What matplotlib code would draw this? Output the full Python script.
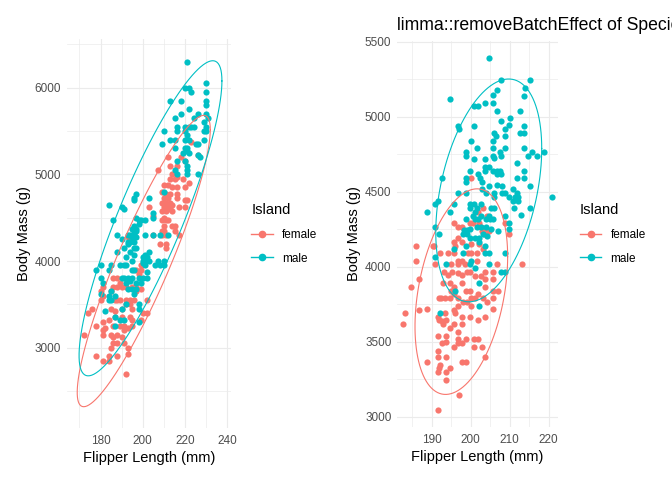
import numpy as np
import matplotlib
matplotlib.use("Agg")
import matplotlib.pyplot as plt
from matplotlib.lines import Line2D
from matplotlib.ticker import MultipleLocator

plt.rcParams['font.family'] = ['Liberation Sans', 'DejaVu Sans']

# colours (ggplot default hue palette)
female_col = '#F8766D'
male_col = '#00BFC4'

# ---- left panel: raw values ----
male_flipper = [
    221, 220, 222, 223, 230, 230, 213, 218, 230, 230, 222, 218, 226, 215, 224, 230, 231, 229,
    216, 220, 222, 223, 224, 230, 210, 216, 220, 229, 230, 221, 213, 215, 220, 222, 225, 209,
    226, 229, 215, 220, 221, 221, 219, 222, 226, 227, 216, 220, 221, 215, 221, 216, 221, 226,
    210, 197, 196, 196, 184, 190, 191, 186, 197, 198, 199, 201, 205, 205, 203, 196, 195, 198,
    197, 188, 194, 201, 205, 208, 212, 196, 197, 193, 195, 196, 197, 190, 193, 194, 196, 193,
    191, 196, 197, 188, 194, 192, 196, 201, 203, 200, 202, 200, 201, 200, 201, 203, 207, 210,
    206, 208, 210, 195, 185, 189, 191, 192, 178, 180, 184, 195, 196, 202, 180, 181, 190, 191,
    193, 194, 195, 198, 200, 202, 192, 197, 199, 185, 193, 195, 197, 180, 184, 187, 196, 184,
    185, 192, 198, 198, 182, 190, 187, 189, 191, 187, 198]
male_mass = [
    6300, 6000, 6000, 5950, 6050, 5950, 5850, 5850, 5850, 5800, 5750, 5700, 5700, 5650, 5650, 5700, 5650, 5600,
    5550, 5550, 5550, 5550, 5550, 5550, 5500, 5500, 5500, 5500, 5500, 5450, 5400, 5400, 5400, 5400, 5350, 5350,
    5350, 5400, 5300, 5300, 5300, 5275, 5250, 5250, 5225, 5200, 5150, 5150, 5100, 5050, 5050, 5000, 5000, 5000,
    4800, 4775, 4700, 4725, 4650, 4625, 4600, 4475, 4500, 4475, 4475, 4475, 4550, 4500, 4725, 4400, 4375, 4425,
    4350, 4300, 4300, 4300, 4300, 4300, 4300, 4325, 4375, 4300, 4275, 4300, 4275, 4250, 4225, 4225, 4225, 4200,
    4150, 4150, 4150, 4100, 4100, 4050, 4075, 4075, 4100, 4050, 4050, 4000, 4000, 3975, 3950, 4000, 4000, 4000,
    3950, 3950, 3950, 4000, 3950, 3950, 3950, 3950, 3900, 3950, 3900, 3900, 3900, 3875, 3800, 3750, 3800, 3800,
    3800, 3775, 3800, 3800, 3800, 3800, 3750, 3750, 3750, 3650, 3675, 3675, 3675, 3625, 3600, 3600, 3625, 3550,
    3550, 3500, 3500, 3450, 3425, 3450, 3350, 3325, 3325, 3250, 3300]

female_flipper = [
    223, 212, 218, 220, 226, 207, 213, 216, 214, 216, 213, 215, 219, 210, 212, 214, 216, 222,
    220, 209, 211, 213, 216, 210, 212, 216, 209, 211, 213, 214, 220, 221, 203, 210, 212, 213,
    220, 217, 209, 211, 214, 205, 210, 211, 209, 212, 214, 215, 210, 209, 210, 215, 205, 209,
    211, 217, 193, 195, 208, 211, 211, 199, 199, 197, 198, 186, 188, 189, 186, 188, 190, 192,
    195, 197, 199, 197, 185, 181, 180, 181, 180, 187, 188, 189, 192, 194, 196, 202, 176, 174,
    185, 187, 190, 192, 194, 195, 200, 202, 181, 184, 187, 190, 194, 195, 199, 178, 182, 181,
    186, 189, 191, 195, 193, 172, 181, 185, 186, 188, 191, 190, 186, 188, 191, 185, 193, 193,
    178, 184, 188, 181, 184, 192]
female_mass = [
    5375, 5200, 5200, 5150, 5225, 5050, 5100, 5100, 5000, 4975, 4950, 4950, 4950, 4875, 4875, 4850, 4850, 4900,
    4850, 4800, 4775, 4775, 4775, 4725, 4725, 4725, 4675, 4675, 4675, 4650, 4700, 4700, 4625, 4625, 4625, 4600,
    4625, 4625, 4575, 4575, 4575, 4525, 4500, 4475, 4475, 4475, 4400, 4400, 4400, 4350, 4350, 4350, 4300, 4300,
    4300, 4300, 4275, 4275, 4200, 4200, 4150, 3950, 3900, 3900, 3850, 3800, 3800, 3750, 3700, 3700, 3700, 3700,
    3700, 3700, 3675, 3650, 3650, 3700, 3650, 3600, 3550, 3550, 3550, 3550, 3550, 3550, 3550, 3550, 3450, 3400,
    3450, 3425, 3450, 3500, 3500, 3450, 3400, 3400, 3300, 3325, 3350, 3350, 3350, 3325, 3325, 3250, 3225, 3200,
    3250, 3250, 3250, 3250, 3225, 3150, 3150, 3150, 3125, 3150, 3200, 3125, 3050, 3050, 3050, 3000, 3000, 2925,
    2900, 2900, 2900, 2850, 2850, 2700]

# ---- right panel: values after limma::removeBatchEffect (species) ----
adj_male_flipper = [
    204.8, 207.9, 215.3, 214.0, 213.8, 194.8, 206.8, 205.8, 200.9, 202.0, 203.8, 205.8, 206.8, 212.7,
    207.9, 210.2, 209.9, 208.9, 213.8, 212.7, 213.8, 196.8, 197.1, 200.9, 206.1, 206.6, 205.8, 208.9,
    200.2, 201.7, 208.9, 213.8, 198.9, 198.9, 205.8, 207.6, 205.8, 206.1, 207.9, 200.9, 203.8, 215.8,
    214.8, 217.1, 218.9, 212.0, 203.8, 204.8, 203.8, 205.8, 206.8, 207.6, 206.8, 207.9, 199.9, 213.8,
    192.7, 198.9, 198.9, 202.0, 202.5, 203.0, 212.0, 213.8, 204.8, 206.8, 208.1, 203.0, 215.3, 220.9,
    196.8, 198.9, 204.0, 206.1, 208.1, 208.9, 210.9, 206.1, 209.9, 211.5, 212.0, 212.2, 210.9, 190.9,
    191.7, 195.8, 199.9, 200.9, 202.7, 188.9, 194.8, 199.9, 201.7, 205.3, 206.1, 211.2, 212.2, 215.3,
    201.2, 200.7, 202.7, 204.8, 208.9, 213.0, 198.9, 201.2, 202.0, 204.0, 205.0, 205.8, 209.9, 209.9,
    190.9, 192.0, 198.4, 199.1, 198.1, 199.1, 199.9, 201.7, 204.0, 202.7, 205.3, 207.1, 199.9, 201.2,
    202.2, 204.3, 203.2, 198.9, 202.2, 203.8, 195.8, 198.1, 203.8, 204.8, 208.9, 190.9, 200.2, 199.9,
    201.2, 193.8, 204.8, 207.9, 208.9, 202.2, 196.1, 202.2, 192.2]
adj_male_mass = [
    5395, 5248, 5248, 5195, 5141, 5121, 5177, 5148, 5074, 5074, 5094, 5094, 5041, 5041,
    4974, 4994, 4947, 4921, 4941, 4894, 4894, 4941, 4921, 4941, 4894, 4874, 4841, 4874,
    4841, 4794, 4794, 4794, 4767, 4740, 4794, 4767, 4740, 4727, 4740, 4720, 4720, 4767,
    4740, 4740, 4767, 4693, 4667, 4667, 4640, 4640, 4640, 4640, 4620, 4620, 4640, 4640,
    4593, 4593, 4566, 4620, 4593, 4566, 4593, 4593, 4540, 4546, 4540, 4520, 4540, 4466,
    4493, 4493, 4493, 4493, 4493, 4493, 4520, 4466, 4466, 4466, 4493, 4466, 4439, 4419,
    4439, 4419, 4419, 4419, 4419, 4366, 4366, 4393, 4393, 4393, 4393, 4393, 4439, 4393,
    4366, 4339, 4339, 4339, 4339, 4346, 4319, 4319, 4319, 4319, 4319, 4319, 4292, 4252,
    4266, 4219, 4246, 4246, 4219, 4219, 4252, 4266, 4266, 4266, 4252, 4239, 4192, 4192,
    4192, 4206, 4219, 4137, 4164, 4137, 4117, 4091, 4091, 4091, 4091, 4064, 4038, 4018,
    3991, 4018, 4018, 3965, 3965, 3892, 3839, 3739, 3693]

adj_female_flipper = [
    200.2, 203.2, 204.3, 202.0, 195.8, 196.8, 197.9, 199.9, 200.7, 202.2, 202.7, 203.8, 204.8, 208.9,
    209.9, 196.8, 203.5, 203.0, 186.1, 190.3, 190.7, 195.8, 196.1, 197.9, 200.2, 202.2, 203.2, 195.8,
    192.2, 194.3, 199.2, 200.2, 201.7, 186.1, 190.9, 195.0, 196.8, 196.8, 197.9, 198.6, 201.7, 206.8,
    213.1, 193.2, 194.3, 195.3, 196.8, 197.9, 199.1, 199.9, 201.2, 202.7, 203.8, 205.8, 203.8, 205.8,
    186.8, 193.0, 194.8, 197.9, 195.6, 195.0, 198.9, 199.9, 202.0, 203.8, 205.8, 207.1, 184.8, 192.0,
    192.5, 193.5, 194.8, 195.8, 196.8, 198.1, 199.1, 200.2, 201.2, 203.2, 204.3, 205.8, 196.8, 200.2,
    205.8, 183.2, 186.8, 188.9, 193.5, 195.8, 196.1, 182.7, 191.7, 192.0, 192.7, 193.8, 193.0, 195.8,
    197.9, 199.9, 202.0, 203.8, 197.9, 194.8, 196.8, 191.7, 193.8, 193.8, 192.7, 195.8, 196.8, 196.8,
    197.9, 198.9, 200.9, 202.0, 200.9, 203.0, 191.7, 188.9, 191.7, 193.8, 203.8, 197.9, 198.9, 192.2,
    192.0, 194.8, 191.7, 193.8, 193.8, 197.1, 191.7]
adj_female_mass = [
    4593, 4393, 4339, 4366, 4292, 4266, 4266, 4292, 4292, 4292, 4266, 4239, 4239, 4292,
    4219, 4192, 4219, 4239, 4137, 4137, 4137, 4164, 4137, 4164, 4151, 4151, 4117, 4091,
    4091, 4091, 4091, 4091, 4091, 4038, 4018, 4018, 4038, 4018, 4038, 4018, 4038, 4018,
    4018, 3965, 3945, 3965, 3958, 3945, 3965, 3965, 3938, 3938, 3965, 3965, 3919, 3919,
    3919, 3892, 3892, 3892, 3865, 3839, 3839, 3839, 3819, 3865, 3839, 3839, 3865, 3793,
    3793, 3793, 3793, 3819, 3793, 3766, 3766, 3793, 3793, 3793, 3766, 3793, 3739, 3739,
    3720, 3693, 3713, 3720, 3693, 3713, 3693, 3620, 3667, 3647, 3640, 3647, 3620, 3620,
    3667, 3667, 3647, 3667, 3620, 3594, 3567, 3541, 3541, 3501, 3494, 3468, 3521, 3494,
    3494, 3521, 3521, 3521, 3468, 3468, 3441, 3368, 3395, 3395, 3395, 3368, 3368, 3342,
    3322, 3322, 3295, 3295, 3242, 3143, 3043]


def cov_trob(data, nu=5, maxit=25, tol=0.01):
    # robust multivariate t estimate, like MASS::cov.trob
    n, p = data.shape
    loc = data.mean(axis=0)
    w = np.ones(n)
    for _ in range(maxit):
        w0 = w
        X = data - loc
        _, d, vt = np.linalg.svd(np.sqrt(w / w.sum())[:, None] * X, full_matrices=False)
        wX = X @ vt.T / d
        Q = (wX ** 2).sum(axis=1)
        w = (nu + p) / (nu + Q)
        loc = (w[:, None] * data).sum(axis=0) / w.sum()
        if np.all(np.abs(w - w0) < tol):
            break
    X = data - loc
    cov = (np.sqrt(w)[:, None] * X).T @ (np.sqrt(w)[:, None] * X) / n
    return loc, cov


def ellipse(x, y, level=0.95, segments=120):
    # 95% t ellipse in the manner of ggplot2::stat_ellipse
    data = np.column_stack([x, y]).astype(float)
    dfd = len(data) - 1
    centre, cov = cov_trob(data)
    fq = dfd / 2 * ((1 - level) ** (-2 / dfd) - 1)  # qf(level, 2, dfd)
    radius = np.sqrt(2 * fq)
    t = np.linspace(0, 2 * np.pi, segments)
    circle = np.column_stack([np.cos(t), np.sin(t)])
    pts = centre + radius * circle @ np.linalg.cholesky(cov).T
    return pts[:, 0], pts[:, 1]


def style(ax, xmaj, xmin, ymaj, ymin):
    ax.set_facecolor('white')
    for s in ax.spines.values():
        s.set_visible(False)
    ax.xaxis.set_major_locator(MultipleLocator(xmaj))
    ax.xaxis.set_minor_locator(MultipleLocator(xmin))
    ax.yaxis.set_major_locator(MultipleLocator(ymaj))
    ax.yaxis.set_minor_locator(MultipleLocator(ymin))
    ax.grid(which='major', color='#EBEBEB', linewidth=0.8)
    ax.grid(which='minor', color='#EBEBEB', linewidth=0.5)
    ax.set_axisbelow(True)
    ax.tick_params(which='both', length=0, labelsize=8.5, labelcolor='#4D4D4D')
    ax.tick_params(axis='x', pad=5)
    ax.tick_params(axis='y', pad=4)
    ax.set_xlabel('Flipper Length (mm)', fontsize=10.5, labelpad=3)
    ax.set_ylabel('Body Mass (g)', fontsize=10.5, labelpad=3)


fig = plt.figure(figsize=(6.72, 4.80), dpi=100)

ax1 = fig.add_axes([0.0993, 0.1083, 0.2445, 0.8105])
ax2 = fig.add_axes([0.5908, 0.111, 0.2400, 0.804])

for ax, fx, fy, mx, my in [
    (ax1, female_flipper, female_mass, male_flipper, male_mass),
    (ax2, adj_female_flipper, adj_female_mass, adj_male_flipper, adj_male_mass),
]:
    ax.scatter(fx, fy, s=20, color=female_col, linewidths=0, zorder=3)
    ax.scatter(mx, my, s=20, color=male_col, linewidths=0, zorder=3)
    ex, ey = ellipse(fx, fy)
    ax.plot(ex, ey, color=female_col, linewidth=0.8, zorder=4)
    ex, ey = ellipse(mx, my)
    ax.plot(ex, ey, color=male_col, linewidth=0.8, zorder=4)

style(ax1, 20, 10, 1000, 500)
ax1.set_xlim(164, 241.75)
ax1.set_ylim(2073, 6562)

style(ax2, 10, 5, 500, 250)
ax2.set_xlim(181.1, 222.5)
ax2.set_ylim(2933, 5507)
# the title runs past the right edge, as in the original
ax2.set_title('limma::removeBatchEffect of Species', loc='left', fontsize=12.7, pad=8)

handles = [
    Line2D([0], [0], color=female_col, marker='o', markersize=4.5, linewidth=1),
    Line2D([0], [0], color=male_col, marker='o', markersize=4.5, linewidth=1),
]
for xpos in (0.367, 0.856):
    fig.legend(handles, ['female', 'male'], title='Island', loc='upper left',
               bbox_to_anchor=(xpos, 0.587), frameon=False, fontsize=8.5,
               title_fontsize=10.5, handlelength=1.8, handletextpad=0.8,
               labelspacing=1.0, alignment='left', borderaxespad=0)

fig.savefig('out.png', dpi=100)
